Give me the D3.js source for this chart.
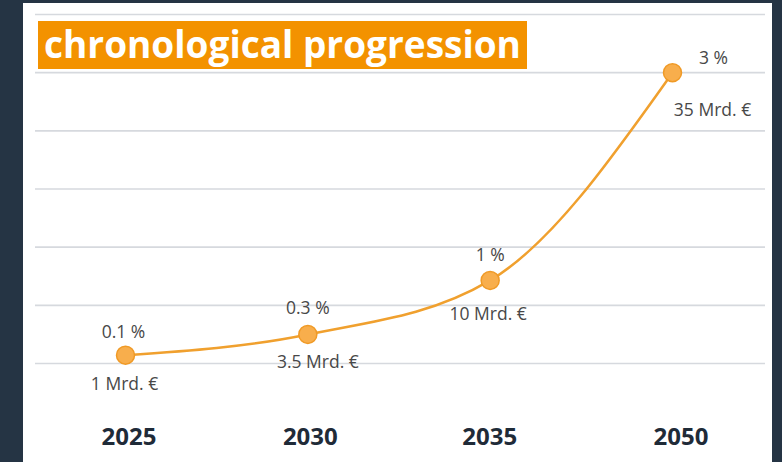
<!DOCTYPE html>
<html>
<head>
<meta charset="utf-8">
<script src="https://cdn.jsdelivr.net/npm/d3@7"></script>
<style>
  html, body { margin: 0; padding: 0; background: #253444; }
  svg { display: block; }
</style>
</head>
<body>
<div id="chart"></div>
<script>
// data
var years = ["2025", "2030", "2035", "2050"];
var volumes = [1, 3.5, 10, 35];            // Mrd. €
var shares = ["0.1 %", "0.3 %", "1 %", "3 %"];
var volumeLabels = ["1 Mrd. €", "3.5 Mrd. €", "10 Mrd. €", "35 Mrd. €"];
var gridTicks = [0, 7, 14, 21, 28, 35, 42];
var title = "chronological progression";

var width = 782, height = 462;

var svg = d3.select("#chart")
  .append("svg")
  .attr("width", width)
  .attr("height", height);

// panel
svg.append("rect")
  .attr("x", 23).attr("y", 3)
  .attr("width", 749).attr("height", height - 3)
  .attr("fill", "#ffffff");

var x = d3.scalePoint().domain(years).range([125.5, 672.5]);
var y = d3.scaleLinear().domain([0, 42]).range([363.5, 14.5]);

// grid
var gGrid = svg.append("g");
gGrid.selectAll("line")
  .data(gridTicks)
  .enter()
  .append("line")
  .attr("x1", 35).attr("x2", 765)
  .attr("y1", function(d) { return y(d); })
  .attr("y2", function(d) { return y(d); })
  .attr("stroke", "#d6d9de")
  .attr("stroke-width", 1.6);

// title
var gTitle = svg.append("g");
gTitle.append("rect")
  .attr("x", 38).attr("y", 21)
  .attr("width", 489).attr("height", 48)
  .attr("fill", "#f39200");
gTitle.append("text")
  .attr("x", 44).attr("y", 58)
  .attr("font-family", "'Open Sans', sans-serif")
  .attr("font-weight", "bold")
  .attr("font-size", "37px")
  .attr("fill", "#ffffff")
  .text(title);

// line
var pts = years.map(function(d, i) { return [x(d), y(volumes[i])]; });
svg.append("path")
  .attr("d", d3.line().curve(d3.curveMonotoneX)(pts))
  .attr("fill", "none")
  .attr("stroke", "#f0a02e")
  .attr("stroke-width", 2.5);

// points
svg.append("g").selectAll("circle")
  .data(years)
  .enter()
  .append("circle")
  .attr("cx", function(d) { return x(d); })
  .attr("cy", function(d, i) { return y(volumes[i]); })
  .attr("r", 9)
  .attr("fill", "#f8ae4c")
  .attr("stroke", "#f09a26")
  .attr("stroke-width", 1.5);

// labels
var labelFont = "'Open Sans', sans-serif";
var shareOffset = [-17, -20, -19, -9];
var shareDx = [-2, 0, 0, 41];
var volOffset = [35, 34, 40, 43];
var volDx = [-1, 10, -2, 40];

var gLabel = svg.append("g")
  .attr("font-family", labelFont)
  .attr("font-size", "17.5px")
  .attr("fill", "#484848")
  .attr("text-anchor", "middle");

gLabel.selectAll("text.share")
  .data(years)
  .enter()
  .append("text")
  .attr("class", "share")
  .attr("x", function(d, i) { return x(d) + shareDx[i]; })
  .attr("y", function(d, i) { return y(volumes[i]) + shareOffset[i]; })
  .text(function(d, i) { return shares[i]; });

gLabel.selectAll("text.vol")
  .data(years)
  .enter()
  .append("text")
  .attr("class", "vol")
  .attr("x", function(d, i) { return x(d) + volDx[i]; })
  .attr("y", function(d, i) { return y(volumes[i]) + volOffset[i]; })
  .text(function(d, i) { return volumeLabels[i]; });

// x axis
var xAxis = svg.append("g")
  .attr("transform", "translate(0,445)")
  .call(d3.axisBottom(x).tickSize(0).tickPadding(0));
xAxis.select(".domain").remove();
xAxis.selectAll("text")
  .attr("dy", 0)
  .attr("dx", function(d, i) { return [3, 2, -1, 8][i]; })
  .attr("font-family", "'Open Sans', sans-serif")
  .attr("font-weight", "bold")
  .attr("font-size", "24px")
  .attr("fill", "#1f2b38");
</script>
</body>
</html>
